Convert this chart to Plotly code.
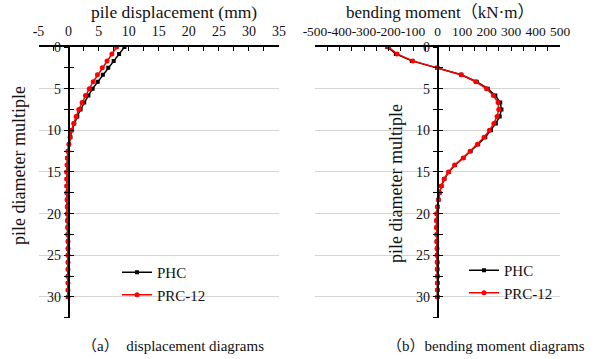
import plotly.graph_objects as go

# ---------------- data ----------------
depth = [0, 0.83, 1.67, 2.5, 3.33, 4.17, 5, 5.83, 6.67, 7.5, 8.33, 9.17, 10,
         10.83, 11.67, 12.5, 13.33, 14.17, 15, 15.83, 16.67, 17.5, 18.33, 19.17, 20,
         20.83, 21.67, 22.5, 23.33, 24.17, 25, 25.83, 26.67, 27.5, 28.33, 29.17, 30]

disp_phc = [9.3, 8.4, 7.5, 6.6, 5.7, 4.85, 4.0, 3.3, 2.6, 2.0, 1.45, 0.95, 0.55,
            0.3, 0.08, -0.1, -0.2, -0.25, -0.3, -0.3, -0.3, -0.28, -0.25, -0.22, -0.2,
            -0.18, -0.15, -0.12, -0.1, -0.1, -0.1, -0.1, -0.1, -0.1, -0.1, -0.1, -0.1]

disp_prc = [8.0, 7.2, 6.4, 5.6, 4.8, 4.1, 3.45, 2.8, 2.25, 1.7, 1.25, 0.85, 0.5,
            0.25, 0.05, -0.1, -0.2, -0.25, -0.3, -0.3, -0.3, -0.28, -0.25, -0.22, -0.2,
            -0.18, -0.15, -0.12, -0.1, -0.1, -0.1, -0.1, -0.1, -0.1, -0.1, -0.1, -0.1]

mom_phc = [-205, -170, -105, -2, 97, 160, 205, 236, 256, 261, 254, 238, 218,
           195, 166, 135, 106, 71, 46, 28, 16, 8, 4, 0, -3,
           -4, -4, -3, -3, -2, -2, -1, -1, 0, 0, 0, 0]

mom_prc = [-200, -165, -101, 0, 97, 156, 200, 228, 247, 250, 243, 230, 212,
           190, 163, 133, 105, 70, 45, 27, 16, 8, 4, 0, -3,
           -4, -4, -3, -3, -2, -2, -1, -1, 0, 0, 0, 0]

disp_tickvals = [-5, 0, 5, 10, 15, 20, 25, 30, 35]
disp_ticktext = ["-5", "0", "5", "10", "15", "20", "25", "30", "35"]
mom_tickvals = [-500, -400, -300, -200, -100, 0, 100, 200, 300, 400, 500]
mom_ticktext = ["-500", "-400", "-300", "-200", "-100", "0", "100", "200", "300", "400", "500"]
depth_tickvals = [0, 5, 10, 15, 20, 25, 30]

series_names = ["PHC", "PRC-12"]
x_title_a = "pile displacement (mm)"
x_title_b = "bending moment（kN·m）"
y_title = "pile diameter multiple"
caption_a = "（a）  displacement diagrams"
caption_b = "（b）bending moment diagrams"

# ---------------- layout helpers ----------------
W, H = 600, 359


def px(x):
    return x / W


def py(y):
    return 1 - y / H


FONT = "Liberation Serif, Noto Sans CJK SC, serif"
BLACK = "#000000"
RED = "#ff0000"

fig = go.Figure()

# displacement panel
fig.add_trace(go.Scatter(x=disp_phc, y=depth, mode="lines+markers", name=series_names[0],
                         line=dict(color=BLACK, width=1.5),
                         marker=dict(symbol="square", size=4, color=BLACK),
                         xaxis="x", yaxis="y", legend="legend"))
fig.add_trace(go.Scatter(x=disp_prc, y=depth, mode="lines+markers", name=series_names[1],
                         line=dict(color=RED, width=1.5),
                         marker=dict(symbol="circle", size=5, color=RED),
                         xaxis="x", yaxis="y", legend="legend"))
# moment panel
fig.add_trace(go.Scatter(x=mom_phc, y=depth, mode="lines+markers", name=series_names[0],
                         line=dict(color=BLACK, width=1.5),
                         marker=dict(symbol="square", size=4, color=BLACK),
                         xaxis="x2", yaxis="y2", legend="legend2"))
fig.add_trace(go.Scatter(x=mom_prc, y=depth, mode="lines+markers", name=series_names[1],
                         line=dict(color=RED, width=1.5),
                         marker=dict(symbol="circle", size=5, color=RED),
                         xaxis="x2", yaxis="y2", legend="legend2"))
# helper traces so the inner-tick overlay axes are drawn
fig.add_trace(go.Scatter(x=[None], y=[None], xaxis="x", yaxis="y3", showlegend=False, hoverinfo="skip"))
fig.add_trace(go.Scatter(x=[None], y=[None], xaxis="x2", yaxis="y4", showlegend=False, hoverinfo="skip"))

ydom = [py(317.8), py(47)]
yrange = [32.5, 0]
ax_left = [px(38.5), px(279)]
ax_right = [px(315), px(560)]
zero_left = px(68.6)
zero_right = px(437.5)

common_x = dict(side="top", showline=True, linecolor=BLACK, linewidth=1.5,
                ticks="inside", ticklen=4, tickwidth=1.2, tickcolor=BLACK,
                tickmode="array", tickangle=0, showgrid=False, zeroline=False,
                ticklabelstandoff=4, automargin=False,
                tickfont=dict(family=FONT, size=14, color="#111111"))

common_y = dict(domain=ydom, range=yrange, anchor="free", showline=True,
                linecolor=BLACK, linewidth=1.5, ticks="outside", ticklen=4,
                tickwidth=1.2, tickcolor=BLACK, tickmode="array",
                tickvals=depth_tickvals, showgrid=True, gridcolor="#d4d4d4",
                gridwidth=1, zeroline=False, automargin=False,
                minor=dict(dtick=2.5, tick0=0, ticks="outside", ticklen=4,
                           tickcolor=BLACK, tickwidth=1.2, showgrid=False),
                tickfont=dict(family=FONT, size=14, color="#111111"))

overlay_y = dict(domain=ydom, range=yrange, anchor="free", showline=False,
                 ticks="inside", ticklen=4, tickwidth=1.2, tickcolor=BLACK,
                 tickmode="array", tickvals=depth_tickvals, showticklabels=False,
                 showgrid=False, zeroline=False, automargin=False,
                 minor=dict(dtick=2.5, tick0=0, ticks="inside", ticklen=4,
                            tickcolor=BLACK, tickwidth=1.2, showgrid=False))

fig.update_layout(
    width=W, height=H, autosize=False,
    margin=dict(l=0, r=0, t=0, b=0, pad=0),
    paper_bgcolor="white", plot_bgcolor="white",
    font=dict(family=FONT, color="#111111"),
    xaxis=dict(common_x, domain=ax_left, range=[-5, 35], anchor="y",
               tickvals=disp_tickvals, ticktext=disp_ticktext,
               minor=dict(dtick=2.5, tick0=0, ticks="inside", ticklen=4,
                          tickcolor=BLACK, tickwidth=1.2, showgrid=False)),
    yaxis=dict(common_y, position=zero_left),
    yaxis3=dict(overlay_y, position=zero_left, overlaying="y"),
    xaxis2=dict(common_x, domain=ax_right, range=[-500, 500], anchor="y2",
                tickvals=mom_tickvals, ticktext=mom_ticktext,
                tickfont=dict(family=FONT, size=13.5, color="#111111"),
                minor=dict(dtick=50, tick0=0, ticks="inside", ticklen=4,
                           tickcolor=BLACK, tickwidth=1.2, showgrid=False)),
    yaxis2=dict(common_y, position=zero_right),
    yaxis4=dict(overlay_y, position=zero_right, overlaying="y2"),
    legend=dict(x=px(117), y=py(256), xanchor="left", yanchor="top",
                bgcolor="rgba(0,0,0,0)", font=dict(family=FONT, size=15, color="#111111"),
                tracegroupgap=0),
    legend2=dict(x=px(464), y=py(254), xanchor="left", yanchor="top",
                 bgcolor="rgba(0,0,0,0)", font=dict(family=FONT, size=15, color="#111111"),
                 tracegroupgap=0),
)

annots = [
    dict(text=x_title_a, x=px(174), y=py(12), font=dict(size=17.5)),
    dict(text=x_title_b, x=px(440), y=py(12), font=dict(size=17)),
    dict(text=y_title, x=px(19), y=py(166), textangle=-90, font=dict(size=18)),
    dict(text=y_title, x=px(396), y=py(184), textangle=-90, font=dict(size=18)),
    dict(text=caption_a, x=px(173), y=py(346), font=dict(size=15)),
    dict(text=caption_b, x=px(486), y=py(346), font=dict(size=15)),
]
for a in annots:
    fig.add_annotation(xref="paper", yref="paper", showarrow=False,
                       xanchor="center", yanchor="middle",
                       font=dict(family=FONT, color="#111111", size=a["font"]["size"]),
                       text=a["text"], x=a["x"], y=a["y"],
                       textangle=a.get("textangle", 0))

fig.write_html("out.html", config={"displayModeBar": False},
               post_script="document.body.style.margin='0';")
